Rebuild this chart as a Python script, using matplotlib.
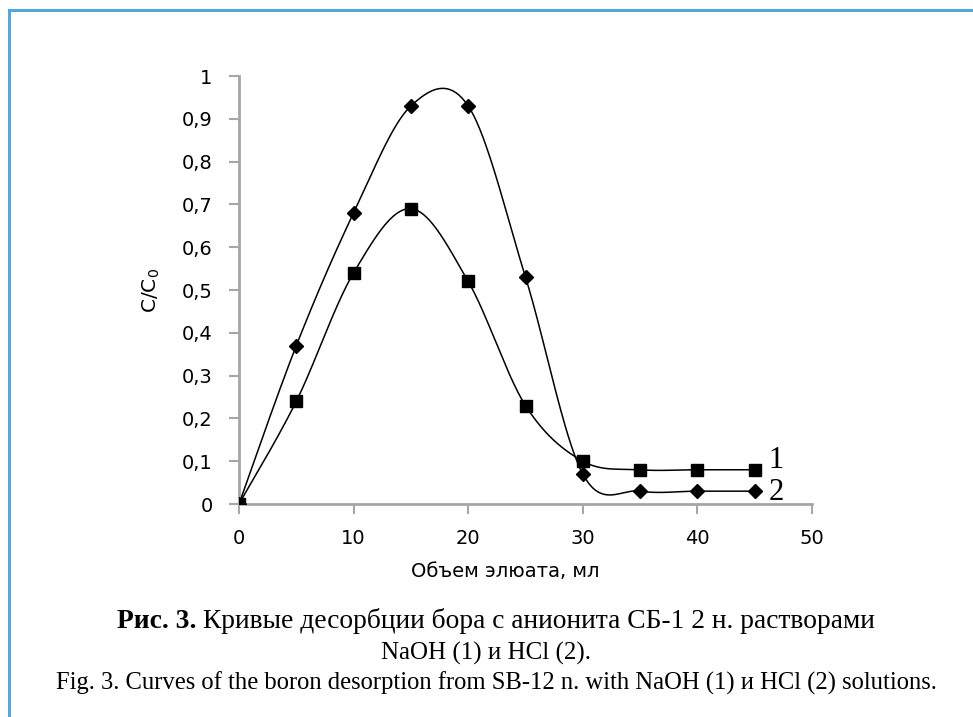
import numpy as np
import matplotlib
matplotlib.use("Agg")
import matplotlib.pyplot as plt
from matplotlib.lines import Line2D

# volume of eluate, ml
volume = [0, 5, 10, 15, 20, 25, 30, 35, 40, 45]
# diamonds
naoh = [0, 0.37, 0.68, 0.93, 0.93, 0.53, 0.07, 0.03, 0.03, 0.03]
# squares
hcl = [0, 0.24, 0.54, 0.69, 0.52, 0.23, 0.10, 0.08, 0.08, 0.08]

x_ticks = [0, 10, 20, 30, 40, 50]
y_ticks = [0, 0.1, 0.2, 0.3, 0.4, 0.5, 0.6, 0.7, 0.8, 0.9, 1.0]

SERIF = "Liberation Serif"
SANS = "DejaVu Sans"
W, H = 973, 717


def smooth(xs, ys, n=40):
    # excel-like smoothed line: cubic bezier through points, catmull-rom tangents
    p = np.column_stack([xs, ys]).astype(float)
    p_ext = np.vstack([p[0], p, p[-1]])
    out = []
    t = np.linspace(0, 1, n)[:, None]
    for i in range(len(p) - 1):
        p0 = p_ext[i + 1]
        p3 = p_ext[i + 2]
        c1 = p0 + (p_ext[i + 2] - p_ext[i]) / 6
        c2 = p3 - (p_ext[i + 3] - p_ext[i + 1]) / 6
        seg = ((1 - t) ** 3) * p0 + 3 * ((1 - t) ** 2) * t * c1 + 3 * (1 - t) * t ** 2 * c2 + t ** 3 * p3
        out.append(seg if i == 0 else seg[1:])
    seg = np.vstack(out)
    return seg[:, 0], seg[:, 1]


fig = plt.figure(figsize=(W / 100, H / 100), dpi=100)
ax = fig.add_axes([239 / W, 1 - 504 / H, 573 / W, 428 / H])

for ys, mk, ms in [(naoh, "D", 7), (hcl, "s", 8)]:
    sx, sy = smooth(volume, ys)
    ax.plot(sx, sy, color="black", lw=1.1, zorder=2)
    ax.plot(volume, ys, ls="none", marker=mk, ms=ms, color="black", zorder=3)

ax.set_xlim(0, 50)
ax.set_ylim(0, 1)
ax.set_xticks(x_ticks)
ax.set_yticks(y_ticks)
ax.set_xticklabels([str(v) for v in x_ticks])
ax.set_yticklabels([("%g" % v).replace(".", ",") for v in y_ticks])

gray = "#a6a6a6"
for side in ["top", "right"]:
    ax.spines[side].set_visible(False)
for side in ["left", "bottom"]:
    ax.spines[side].set_color(gray)
    ax.spines[side].set_linewidth(2)
ax.tick_params(direction="out", length=7, width=1.5, color=gray,
               labelsize=14, labelcolor="black")
ax.tick_params(axis="y", pad=12)
ax.tick_params(axis="x", pad=11)
for lab in ax.get_xticklabels() + ax.get_yticklabels():
    lab.set_family(SANS)

ax.set_xlabel("Объем элюата, мл", fontsize=14, family=SANS, labelpad=10)
ax.xaxis.set_label_coords(0.464, -0.135)
ax.set_ylabel("C/C$_0$", fontsize=14.5, family=SANS, labelpad=14)

ax.text(46.2, 0.084, "1", fontsize=22, family=SERIF, va="baseline", ha="left")
ax.text(46.2, 0.009, "2", fontsize=22, family=SERIF, va="baseline", ha="left")

# caption, first line has a bold prefix
y1 = 1 - 628 / H
cap1 = fig.text(0.1, y1, "Рис. 3.", fontsize=19.8, family=SERIF,
                weight="bold", ha="left", va="baseline")
rest = " Кривые десорбции бора с анионита СБ-1 2 н. растворами"
cap2 = fig.text(0.1, y1, rest, fontsize=19.8, family=SERIF, ha="left", va="baseline")
r = fig.canvas.get_renderer()
w1 = cap1.get_window_extent(r).width
w2 = cap2.get_window_extent(r).width
x0 = (496 - (w1 + w2) / 2) / W
cap1.set_x(x0)
cap2.set_x(x0 + w1 / W)
fig.text(486 / W, 1 - 660 / H, "NaOH (1) и HCl (2).", fontsize=18, family=SERIF,
         ha="center", va="baseline")
fig.text(496 / W, 1 - 690 / H,
         "Fig. 3. Curves of the boron desorption from SB-12 n. with NaOH (1) и HCl (2) solutions.",
         fontsize=17.7, family=SERIF, ha="center", va="baseline")

# frame lines (left and top only)
blue = "#55a7d8"
fig.add_artist(Line2D([9 / W, 9 / W], [0, 1 - 10 / H], color=blue, lw=2.2,
                      transform=fig.transFigure))
fig.add_artist(Line2D([9 / W, 1], [1 - 10 / H, 1 - 10 / H], color=blue, lw=2.2,
                      transform=fig.transFigure))

fig.savefig("out.png", dpi=100)
